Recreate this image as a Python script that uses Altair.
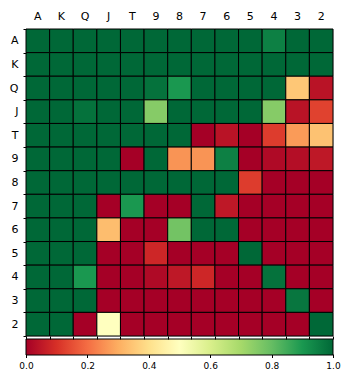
import altair as alt
import pandas as pd

ranks = ["A", "K", "Q", "J", "T", "9", "8", "7", "6", "5", "4", "3", "2"]

row_A = [1, 1, 1, 1, 1, 1, 1, 1, 1, 1, 0.95, 1, 1]
row_K = [1, 1, 1, 1, 1, 1, 1, 1, 1, 1, 1, 1, 1]
row_Q = [1, 1, 1, 1, 1, 0.98, 0.9, 1, 1, 1, 1, 0.35, 0.04]
row_J = [1, 1, 0.98, 1, 1, 0.75, 1, 1, 1, 1, 0.75, 0.04, 0.13]
row_T = [1, 1, 1, 1, 1, 1, 1, 0.0, 0.04, 0.0, 0.12, 0.27, 0.34]
row_9 = [1, 1, 1, 1, 0.0, 1, 0.26, 0.26, 0.95, 0.0, 0.02, 0.03, 0.05]
row_8 = [1, 1, 1, 1, 1, 1, 1, 1, 1, 0.12, 0.0, 0.0, 0.0]
row_7 = [1, 1, 1, 0.0, 0.9, 0.0, 0.0, 1, 0.05, 0.0, 0.0, 0.0, 0.0]
row_6 = [1, 1, 1, 0.33, 0.0, 0.0, 0.78, 1, 1, 0.0, 0.0, 0.0, 0.0]
row_5 = [1, 1, 1, 0.0, 0.0, 0.08, 0.0, 0.0, 0.0, 1, 0.0, 0.0, 0.0]
row_4 = [1, 1, 0.9, 0.0, 0.0, 0.02, 0.05, 0.08, 0.0, 0.0, 0.98, 0.0, 0.0]
row_3 = [1, 1, 1, 0.0, 0.0, 0.0, 0.0, 0.0, 0.0, 0.0, 0.0, 0.97, 0.0]
row_2 = [1, 1, 0.0, 0.5, 0.0, 0.0, 0.0, 0.0, 0.0, 0.0, 0.0, 0.0, 1]

rows = [row_A, row_K, row_Q, row_J, row_T, row_9, row_8, row_7, row_6, row_5, row_4, row_3, row_2]

# RdYlGn colour stops
cmap_stops = [0.0, 0.1, 0.2, 0.3, 0.4, 0.5, 0.6, 0.7, 0.8, 0.9, 1.0]
cmap_colors = ["#a50026", "#d73027", "#f46d43", "#fdae61", "#fee08b", "#ffffbf",
               "#d9ef8b", "#a6d96a", "#66bd63", "#1a9850", "#006837"]

colorbar_ticks = [0.0, 0.2, 0.4, 0.6, 0.8, 1.0]

records = []
for r, vals in zip(ranks, rows):
    for c, v in zip(ranks, vals):
        records.append({"row": r, "col": c, "value": v})
df = pd.DataFrame(records)
ticks_df = pd.DataFrame({"t": colorbar_ticks})

font = "DejaVu Sans"

y_axis = alt.Axis(orient="left", ticks=True, tickBand="extent", tickSize=3,
                  tickColor="black", domain=False,
                  labelFontSize=11, labelFont=font, labelColor="black",
                  labelPadding=5)

base = alt.Chart(df)

top = base.mark_rect(stroke="black", strokeWidth=1).encode(
    x=alt.X("col:N", sort=ranks, title=None,
            scale=alt.Scale(paddingInner=0, paddingOuter=0),
            axis=alt.Axis(orient="top", ticks=False, domain=False, labelAngle=0,
                          labelFontSize=11, labelFont=font, labelColor="black",
                          labelPadding=8)),
    y=alt.Y("row:N", sort=ranks, title=None,
            scale=alt.Scale(paddingInner=0, paddingOuter=0),
            axis=y_axis),
    color=alt.Color("value:Q",
                    scale=alt.Scale(domain=cmap_stops, range=cmap_colors, interpolate="rgb"),
                    legend=alt.Legend(title=None, orient="none", direction="horizontal",
                                      legendX=0, legendY=310,
                                      gradientLength=307, gradientThickness=16,
                                      gradientStrokeColor="black", gradientStrokeWidth=1,
                                      values=[0.0, 1.0],
                                      labelExpr="''", labelFontSize=1)),
)

bottom = base.mark_rect(opacity=0).encode(
    x=alt.X("col:N", sort=ranks, title=None,
            axis=alt.Axis(orient="bottom", labels=False, ticks=True, tickBand="extent",
                          tickSize=3, tickColor="black", domain=False)),
    y=alt.Y("row:N", sort=ranks, title=None, axis=y_axis),
)

cbar_axis = alt.Chart(ticks_df).mark_point(opacity=0).encode(
    x=alt.X("t:Q", title=None,
            scale=alt.Scale(domain=[0, 1], nice=False, zero=False),
            axis=alt.Axis(orient="bottom", offset=18, values=colorbar_ticks, format=".1f",
                          ticks=True, tickSize=3.5, tickColor="black", domain=False,
                          grid=False, labelFontSize=9, labelFont=font, labelColor="black",
                          labelPadding=4, labelFlush=False)),
    y=alt.value(0),
)

chart = alt.layer(top, bottom, cbar_axis).resolve_scale(x="independent").resolve_axis(
    x="independent"
).properties(
    width=307, height=307,
    padding={"left": 18, "top": 21, "right": 8, "bottom": 40},
    autosize=alt.AutoSizeParams(type="none"),
).configure_view(stroke=None).configure(background="white")

chart.save("out.html", embed_options={"renderer": "svg", "actions": False})
